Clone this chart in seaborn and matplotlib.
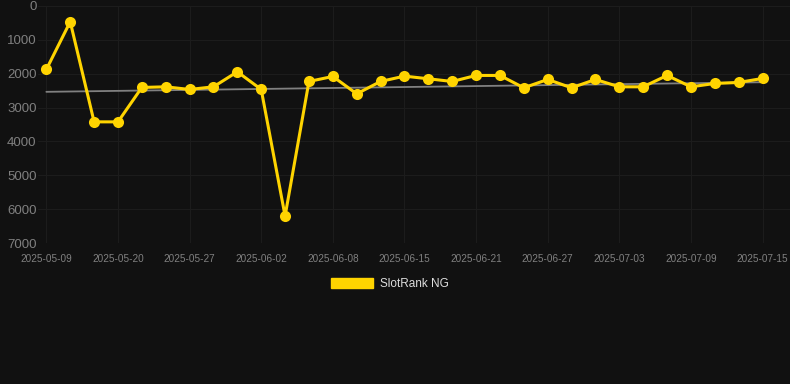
import numpy as np
import pandas as pd
import seaborn as sns
from matplotlib import pyplot as plt
from matplotlib.patches import Patch

# dates on a categorical axis, only every third one is labelled
dates = [
    "2025-05-09", "2025-05-12", "2025-05-16",
    "2025-05-20", "2025-05-22", "2025-05-25",
    "2025-05-27", "2025-05-29", "2025-05-31",
    "2025-06-02", "2025-06-04", "2025-06-06",
    "2025-06-08", "2025-06-10", "2025-06-13",
    "2025-06-15", "2025-06-17", "2025-06-19",
    "2025-06-21", "2025-06-23", "2025-06-25",
    "2025-06-27", "2025-06-29", "2025-07-01",
    "2025-07-03", "2025-07-05", "2025-07-07",
    "2025-07-09", "2025-07-11", "2025-07-13",
    "2025-07-15",
]
ranks = [
    1874, 464, 3422, 3422, 2406, 2387, 2465, 2387, 1943, 2465,
    6203, 2229, 2081, 2594, 2229, 2071, 2150, 2229, 2051, 2051,
    2416, 2170, 2416, 2170, 2387, 2387, 2051, 2387, 2288, 2258,
    2140,
]
series_name = "SlotRank NG"
y_ticks = [0, 1000, 2000, 3000, 4000, 5000, 6000, 7000]

BG = "#111111"
GOLD = "#FFD400"
GRID = "#1c1c1c"

sns.set_style("dark", {
    "axes.facecolor": BG,
    "figure.facecolor": BG,
    "grid.color": GRID,
    "axes.grid": True,
})
plt.rcParams['font.family'] = ['Liberation Sans', 'DejaVu Sans']

df = pd.DataFrame({"idx": np.arange(len(dates)), "date": dates, "rank": ranks})

fig = plt.figure(figsize=(7.9, 3.84), dpi=100)
ax = fig.add_axes([38 / 790, (384 - 243) / 384, (790 - 38) / 790, (243 - 6) / 384])

# trend line (least squares over the rank series)
slope, intercept = np.polyfit(df["idx"], df["rank"], 1)
df["trend"] = intercept + slope * df["idx"]
sns.lineplot(data=df, x="idx", y="trend", ax=ax, color="#808080", linewidth=1.3)

sns.lineplot(data=df, x="idx", y="rank", ax=ax, color=GOLD, linewidth=2.2,
             marker="o", markersize=8, markeredgewidth=0)

ax.set_ylim(7000, 0)
ax.set_yticks(y_ticks)
ax.set_xlim(-0.35, len(dates) + 0.15)
ax.set_xticks(df["idx"][::3])
ax.set_xticklabels(df["date"][::3])
ax.tick_params(axis="y", colors="#808080", labelsize=9.5, length=0, pad=1)
ax.tick_params(axis="x", colors="#808080", labelsize=7.2, length=0, pad=8)
ax.set_xlabel("")
ax.set_ylabel("")
for s in ax.spines.values():
    s.set_visible(False)
ax.grid(True, color=GRID, linewidth=0.8)

handles = [Patch(facecolor=GOLD, edgecolor=GOLD, label=series_name)]
leg = fig.legend(handles=handles, loc="center", bbox_to_anchor=(390 / 790, 1 - 284 / 384),
                 frameon=False, fontsize=8.5, handlelength=3.6, handleheight=1.0,
                 handletextpad=0.6, labelcolor="#dddddd")

plt.savefig("out.png", dpi=100, facecolor=BG)
